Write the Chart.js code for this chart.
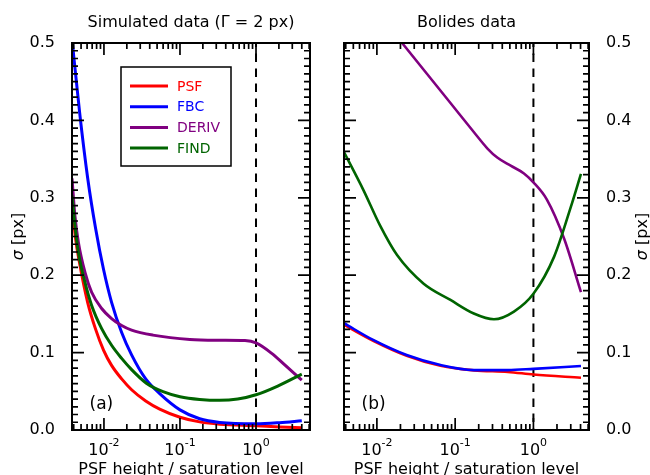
<!DOCTYPE html>
<html>
<head>
<meta charset="utf-8">
<script src="https://cdn.jsdelivr.net/npm/chart.js@4/dist/chart.umd.min.js"></script>
<style>
  body { margin: 0; background: #fff; }
  #wrap { position: relative; width: 650px; height: 475px; }
  canvas { position: absolute; top: 0; }
  #cSim { left: 0; }
  #cBol { left: 325px; }
</style>
</head>
<body>
<div id="wrap">
  <canvas id="cSim" width="325" height="475"></canvas>
  <canvas id="cBol" width="325" height="475"></canvas>
</div>
<script>
const FONT = 'DejaVu Sans'

// rango comun de los ejes
const xMin = 0.0038
const xMax = 5.13
const yMax = 0.5
const xDecadas = [-2, -1, 0]

const nombres = ['PSF', 'FBC', 'DERIV', 'FIND']
const colores = ['#ff0000', '#0000ff', '#800080', '#006400']

// (a) datos simulados
const simPsfX = [0.0038, 0.0042, 0.00479, 0.0061, 0.00778, 0.0099, 0.0126, 0.0171, 0.0231, 0.0354, 0.0541, 0.1, 0.1815, 0.333, 1, 2.05, 4.0]
const simPsfY = [0.295, 0.25, 0.215, 0.165, 0.130, 0.103, 0.0835, 0.066, 0.052, 0.0375, 0.027, 0.0165, 0.0105, 0.0075, 0.0055, 0.004, 0.003]
const simFbcX = [0.0038, 0.00479, 0.0061, 0.00778, 0.0099, 0.0126, 0.0171, 0.0231, 0.0354, 0.0541, 0.1, 0.1815, 0.333, 1, 2.05, 4.0]
const simFbcY = [0.505, 0.41, 0.326, 0.260, 0.207, 0.165, 0.126, 0.097, 0.066, 0.047, 0.026, 0.0145, 0.0098, 0.008, 0.0095, 0.012]
const simDerivX = [0.0038, 0.00415, 0.0046, 0.00562, 0.00689, 0.00933, 0.0126, 0.0171, 0.0231, 0.044, 0.135, 0.333, 0.716, 1, 1.61, 2.39, 4.0]
const simDerivY = [0.325, 0.277, 0.243, 0.204, 0.178, 0.157, 0.144, 0.135, 0.129, 0.1226, 0.117, 0.116, 0.1155, 0.1125, 0.099, 0.084, 0.0645]
const simFindX = [0.0038, 0.00415, 0.0046, 0.00562, 0.00689, 0.00933, 0.0126, 0.0171, 0.0231, 0.0361, 0.0598, 0.1, 0.1815, 0.333, 0.575, 1, 1.93, 4.0]
const simFindY = [0.303, 0.2645, 0.230, 0.191, 0.161, 0.131, 0.1095, 0.0925, 0.078, 0.0605, 0.0495, 0.043, 0.0395, 0.0383, 0.040, 0.0455, 0.0568, 0.0723]

// (b) datos de bolidos
const bolPsfX = [0.0038, 0.0091, 0.024, 0.065, 0.174, 0.47, 1, 4.05]
const bolPsfY = [0.136, 0.115, 0.096, 0.083, 0.077, 0.075, 0.0718, 0.0675]
const bolFbcX = [0.0038, 0.0091, 0.024, 0.065, 0.174, 0.47, 1, 4.05]
const bolFbcY = [0.138, 0.116, 0.0968, 0.0839, 0.0774, 0.0774, 0.079, 0.0826]
const bolDerivX = [0.0148, 0.0438, 0.0871, 0.173, 0.257, 0.345, 0.512, 0.757, 1, 1.48, 2.47, 4.05]
const bolDerivY = [0.519, 0.46, 0.4225, 0.385, 0.364, 0.352, 0.3415, 0.3315, 0.32, 0.298, 0.247, 0.178]
const bolFindX = [0.0038, 0.00673, 0.011, 0.0181, 0.0396, 0.0871, 0.173, 0.313, 0.564, 1, 1.84, 3.0, 4.05]
const bolFindY = [0.359, 0.31, 0.264, 0.226, 0.189, 0.168, 0.1505, 0.143, 0.153, 0.176, 0.224, 0.288, 0.331]

function serie(i, xs, ys, ancho) {
    return {
        label: nombres[i],
        data: xs.map((v, k) => ({ x: v, y: ys[k] })),
        borderColor: colores[i],
        borderWidth: ancho,
        pointRadius: 0,
        fill: false,
        cubicInterpolationMode: 'monotone',
        clip: 0,
        order: 3 - i   // FIND queda encima
    }
}

// marco, ticks hacia dentro, linea de saturacion y textos
const marco = {
    id: 'marco',
    beforeDatasetsDraw(chart) {
        const { ctx, chartArea: a, scales: { x } } = chart
        const px = x.getPixelForValue(1)
        ctx.save()
        ctx.strokeStyle = '#000'
        ctx.lineWidth = 2
        ctx.setLineDash([8.4, 6.6])
        ctx.lineDashOffset = 4.4
        ctx.beginPath()
        ctx.moveTo(px, a.top)
        ctx.lineTo(px, a.bottom)
        ctx.stroke()
        ctx.restore()
    },
    afterDatasetsDraw(chart, args, opts) {
        const { ctx, chartArea: a, scales: { x, y } } = chart
        ctx.save()
        ctx.strokeStyle = '#000'
        ctx.lineWidth = 1.7
        ctx.beginPath()
        for (let i = 0; i <= 50; i++) {
            const py = y.getPixelForValue(i / 100)
            const largo = i % 10 === 0 ? 12 : 6
            ctx.moveTo(a.left, py); ctx.lineTo(a.left + largo, py)
            ctx.moveTo(a.right, py); ctx.lineTo(a.right - largo, py)
        }
        for (let d = -3; d <= 0; d++) {
            for (let m = 1; m <= 9; m++) {
                const v = m * Math.pow(10, d)
                if (v < xMin || v > xMax) continue
                const px = x.getPixelForValue(v)
                const largo = m === 1 ? 12 : 6
                ctx.moveTo(px, a.bottom); ctx.lineTo(px, a.bottom - largo)
                ctx.moveTo(px, a.top); ctx.lineTo(px, a.top + largo)
            }
        }
        ctx.stroke()
        ctx.lineWidth = 2
        ctx.strokeRect(a.left, a.top, a.right - a.left, a.bottom - a.top)

        if (opts.leyenda) {
            const lx = a.left + 49, ly = a.top + 24
            ctx.lineWidth = 1.5
            ctx.strokeRect(lx, ly, 110, 99)
            ctx.font = '14px "' + FONT + '"'
            ctx.textBaseline = 'middle'
            nombres.forEach((n, i) => {
                const yy = ly + 19 + i * 20.7
                ctx.strokeStyle = colores[i]
                ctx.lineWidth = 3
                ctx.beginPath()
                ctx.moveTo(lx + 9, yy); ctx.lineTo(lx + 47, yy)
                ctx.stroke()
                ctx.fillStyle = colores[i]
                ctx.fillText(n, lx + 56, yy + 1)
            })
        }
        ctx.restore()
    },
    afterDraw(chart, args, opts) {
        const { ctx, chartArea: a, scales: { x } } = chart
        const cx = (a.left + a.right) / 2
        ctx.save()
        ctx.fillStyle = '#000'
        ctx.textBaseline = 'alphabetic'

        // titulo del panel
        ctx.font = '16px "' + FONT + '"'
        ctx.textAlign = 'center'
        ctx.fillText(opts.titulo, cx, 26.7)

        // etiquetas 10^n
        xDecadas.forEach(d => {
            const px = x.getPixelForValue(Math.pow(10, d))
            const base = '10', exp = String(d)
            ctx.font = '16px "' + FONT + '"'
            const wb = ctx.measureText(base).width
            ctx.font = '11px "' + FONT + '"'
            const we = ctx.measureText(exp).width
            const x0 = px - (wb + we) / 2
            ctx.textAlign = 'left'
            ctx.font = '16px "' + FONT + '"'
            ctx.fillText(base, x0, 454.7)
            ctx.font = '11px "' + FONT + '"'
            ctx.fillText(exp, x0 + wb, 445.5)
        })

        // titulo eje x
        ctx.font = '16px "' + FONT + '"'
        ctx.textAlign = 'center'
        ctx.fillText('PSF height / saturation level', cx, 474.4)

        // letra del panel
        ctx.font = '17px "' + FONT + '"'
        ctx.textAlign = 'left'
        ctx.fillText(opts.letra, a.left + 17.5, 408.5)

        // titulo eje y, sigma en cursiva
        ctx.translate(opts.ejeY, (a.top + a.bottom) / 2)
        ctx.rotate(-Math.PI / 2)
        ctx.font = 'italic 16px "' + FONT + '"'
        const ws = ctx.measureText('σ').width
        ctx.font = '16px "' + FONT + '"'
        const wr = ctx.measureText(' [px]').width
        const s0 = -(ws + wr) / 2
        ctx.font = 'italic 16px "' + FONT + '"'
        ctx.fillText('σ', s0, 0)
        ctx.font = '16px "' + FONT + '"'
        ctx.fillText(' [px]', s0 + ws, 0)
        ctx.restore()
    }
}

function opciones(lado, ancho, padding, extra) {
    return {
        responsive: false,
        devicePixelRatio: 1,
        animation: false,
        layout: { padding: padding },
        scales: {
            x: { type: 'logarithmic', min: xMin, max: xMax, display: false },
            y: {
                position: lado,
                min: 0,
                max: yMax,
                grid: { display: false },
                border: { display: false },
                ticks: {
                    stepSize: 0.1,
                    padding: 9,
                    color: '#000',
                    font: { family: FONT, size: 16 },
                    callback: v => v.toFixed(1)
                },
                afterFit: s => { s.width = ancho }
            }
        },
        plugins: {
            legend: { display: false },
            tooltip: { enabled: false },
            marco: extra
        }
    }
}

const graficaSim = new Chart(document.getElementById('cSim'), {
    type: 'line',
    data: {
        datasets: [
            serie(0, simPsfX, simPsfY, 3),
            serie(1, simFbcX, simFbcY, 3),
            serie(2, simDerivX, simDerivY, 3),
            serie(3, simFindX, simFindY, 3)
        ]
    },
    options: opciones('left', 72, { left: 0, right: 15, top: 43, bottom: 45 },
        { titulo: 'Simulated data (Γ = 2 px)', letra: '(a)', leyenda: true, ejeY: 23 }),
    plugins: [marco]
})

const graficaBol = new Chart(document.getElementById('cBol'), {
    type: 'line',
    data: {
        datasets: [
            serie(0, bolPsfX, bolPsfY, 2.6),
            serie(1, bolFbcX, bolFbcY, 2.6),
            serie(2, bolDerivX, bolDerivY, 2.6),
            serie(3, bolFindX, bolFindY, 2.6)
        ]
    },
    options: opciones('right', 61, { left: 19, right: 0, top: 43, bottom: 45 },
        { titulo: 'Bolides data', letra: '(b)', leyenda: false, ejeY: 322 }),
    plugins: [marco]
})
</script>
</body>
</html>
